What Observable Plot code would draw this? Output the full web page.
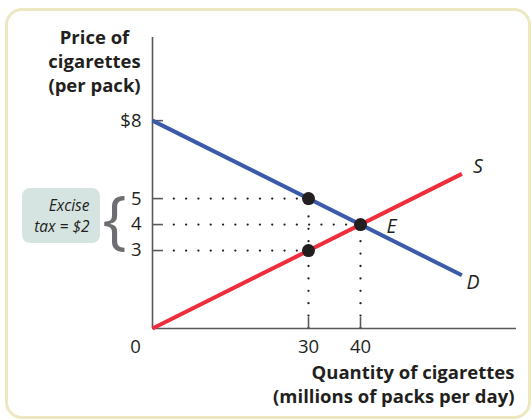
<!DOCTYPE html>
<html>
<head>
<meta charset="utf-8">
<script src="https://cdn.jsdelivr.net/npm/d3@7"></script>
<script src="https://cdn.jsdelivr.net/npm/@observablehq/plot@0.6"></script>
<style>
  html, body { margin: 0; padding: 0; background: #ffffff; }
  #wrap { position: relative; width: 531px; height: 420px; overflow: hidden; }
  #border { position: absolute; left: 4.5px; top: 8px; width: 526px; height: 411px; box-sizing: border-box;
            border: 3.5px solid #ede7c2; border-radius: 17px; pointer-events: none; }
  #chart { position: absolute; left: 0; top: 0; }
</style>
</head>
<body>
<div id="wrap"><div id="chart"></div><div id="border"></div></div>
<script>
// Curves (quantity in millions of packs/day, price in $)
const supplyQ = [0, 59.5];
const supplyP = [0, 5.95];
const demandQ = [0, 59.5];
const demandP = [8, 2.05];
// Marked points
const pointQ = [30, 40, 30];
const pointP = [5, 4, 3];
// Axis ticks
const yTicks = [3, 4, 5, 8];
const yTickLabels = ["3", "4", "5", "$8"];
const xTicks = [30, 40];
const xTickLabels = ["30", "40"];
const xDomain = [0, 70];
const yDomain = [0, 11.2];

const ink = "#231f20";
const axisColor = "#58595b";
const font = "'Open Sans', Roboto, sans-serif";

const supply = supplyQ.map((q, i) => ({q, p: supplyP[i]}));
const demand = demandQ.map((q, i) => ({q, p: demandP[i]}));
const points = pointQ.map((q, i) => ({q, p: pointP[i]}));
// vertical guides: one per distinct quantity, up to the highest point
const vGuides = Array.from(d3.rollup(points, v => d3.max(v, d => d.p), d => d.q), ([q, p]) => ({q, p}));

const chart = Plot.plot({
  width: 531,
  height: 420,
  marginLeft: 152,
  marginRight: 15,
  marginTop: 37,
  marginBottom: 92,
  x: {domain: xDomain, axis: null},
  y: {domain: yDomain, axis: null},
  style: {fontFamily: font, background: "transparent", color: ink},
  marks: [
    // dotted guides
    Plot.ruleY(points, {y: "p", x1: 4.2, x2: "q", stroke: ink, strokeWidth: 2.3, strokeDasharray: "0 12.3", strokeLinecap: "round"}),
    Plot.ruleX(vGuides, {x: "q", y1: 0, y2: "p", stroke: ink, strokeWidth: 2.3, strokeDasharray: "0 12.4", strokeLinecap: "round"}),
    // axes
    Plot.ruleX([0], {y1: yDomain[0], y2: yDomain[1], stroke: axisColor, strokeWidth: 1.6}),
    Plot.ruleY([0], {x1: xDomain[0], x2: xDomain[1], stroke: axisColor, strokeWidth: 1.6}),
    Plot.ruleY(yTicks, {x1: 0, x2: 2.1, stroke: axisColor, strokeWidth: 1.6}),
    Plot.ruleX(xTicks, {y1: 0, y2: 0.42, stroke: axisColor, strokeWidth: 1.6}),
    Plot.text(yTicks, {x: 0, y: d => d, text: (d, i) => yTickLabels[i], textAnchor: "end", dx: -11, fontSize: 18.5, fill: ink}),
    Plot.text(xTicks, {x: d => d, y: 0, text: (d, i) => xTickLabels[i], dy: 19, fontSize: 18.5, fill: ink}),
    Plot.text(["0"], {x: 0, y: 0, text: d => d, dx: -17, dy: 19, fontSize: 18.5, fill: ink}),
    // curves
    Plot.line(demand, {x: "q", y: "p", stroke: "#3b5ba9", strokeWidth: 4, strokeLinecap: "butt"}),
    Plot.line(supply, {x: "q", y: "p", stroke: "#ee2e3d", strokeWidth: 4, strokeLinecap: "butt"}),
    Plot.dot(points, {x: "q", y: "p", r: 6.5, fill: ink, stroke: null}),
    // curve labels
    Plot.text([supply[supply.length - 1]], {x: "q", y: "p", text: () => "S", dx: 16, dy: -7, fontStyle: "italic", fontSize: 19.5, fill: ink}),
    Plot.text([demand[demand.length - 1]], {x: "q", y: "p", text: () => "D", dx: 11, dy: 8, fontStyle: "italic", fontSize: 19.5, fill: ink}),
    Plot.text([points[1]], {x: "q", y: "p", text: () => "E", dx: 31, dy: 2, fontStyle: "italic", fontSize: 19.5, fill: ink}),
    // axis titles
    Plot.text(["Price of\ncigarettes\n(per pack)"], {frameAnchor: "top-left", dx: -58, dy: 23, textAnchor: "middle", lineAnchor: "middle", lineHeight: 1.3, fontWeight: "bold", fontSize: 18.5, fill: ink}),
    Plot.text(["Quantity of cigarettes\n(millions of packs per day)"], {frameAnchor: "bottom-right", dx: -2, dy: 55, textAnchor: "end", lineAnchor: "middle", lineHeight: 1.3, fontWeight: "bold", fontSize: 18.5, fill: ink}),
    // excise tax annotation
    Plot.text(["Excise\ntax = $2"], {frameAnchor: "top-left", dx: -63, dy: 177, textAnchor: "end", lineAnchor: "middle", lineHeight: 1.4, fontStyle: "italic", fontSize: 15.5, fill: ink}),
    Plot.text(["{"], {frameAnchor: "top-left", dx: -38, dy: 184, textAnchor: "middle", lineAnchor: "middle", fontSize: 64, fontWeight: 400, fill: "#6d6e71"})
  ]
});

// annotation background box (behind text)
const svg = d3.select(chart);
svg.insert("rect", ":first-child")
  .attr("x", 22).attr("y", 188).attr("width", 78).attr("height", 55)
  .attr("rx", 8).attr("fill", "#d6e4e1");

document.getElementById("chart").appendChild(chart);
</script>
</body>
</html>
